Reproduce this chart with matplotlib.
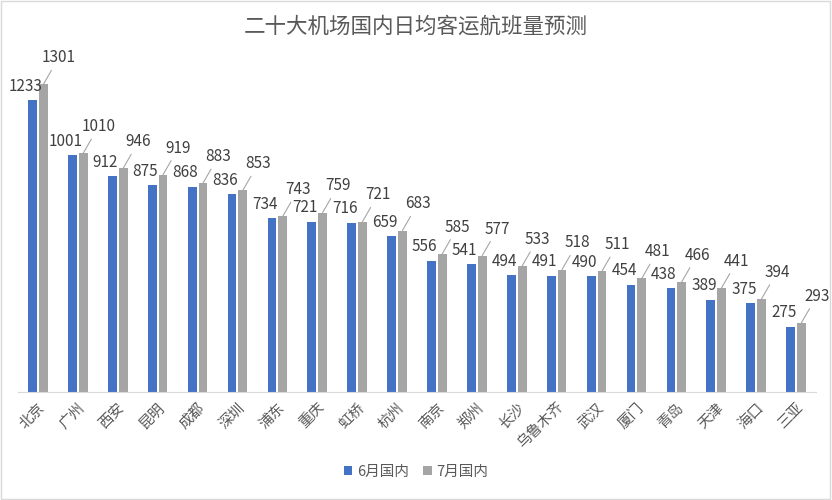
import numpy as np
import matplotlib
matplotlib.use("Agg")
from matplotlib import pyplot as plt
from matplotlib.patches import Rectangle

plt.rcParams['font.family'] = ['Noto Sans CJK SC', 'DejaVu Sans']

airports = ["北京", "广州", "西安", "昆明", "成都", "深圳", "浦东", "重庆", "虹桥", "杭州",
            "南京", "郑州", "长沙", "乌鲁木齐", "武汉", "厦门", "青岛", "天津", "海口", "三亚"]
june = [1233, 1001, 912, 875, 868, 836, 734, 721, 716, 659,
        556, 541, 494, 491, 490, 454, 438, 389, 375, 275]
july = [1301, 1010, 946, 919, 883, 853, 743, 759, 721, 683,
        585, 577, 533, 518, 511, 481, 466, 441, 394, 293]

BLUE = "#4472C4"
GRAY = "#A5A5A5"
TXT = "#404040"

fig = plt.figure(figsize=(8.32, 5), dpi=100)
ax = fig.add_axes([18 / 832, 1 - 392 / 500, 798 / 832, 331 / 500])

x = np.arange(len(airports))
w = 0.22
ax.bar(x - 0.135, june, width=w, color=BLUE, label="6月国内")
ax.bar(x + 0.135, july, width=w, color=GRAY, label="7月国内")

# data labels, roughly like excel's leader-line placement
for i in range(len(airports)):
    ax.annotate(str(june[i]), xy=(x[i] - 0.135, june[i]),
                xytext=(-5, 4), textcoords="offset points",
                ha="center", va="bottom", fontsize=11, color=TXT)
    ax.annotate(str(july[i]), xy=(x[i] + 0.135, july[i]),
                xytext=(11, 13), textcoords="offset points",
                ha="center", va="bottom", fontsize=11, color=TXT,
                arrowprops=dict(arrowstyle="-", color="#A6A6A6", lw=0.8,
                                shrinkA=1, shrinkB=0))

ax.set_xlim(-0.5, len(airports) - 0.5)
ax.set_ylim(0, 1400)
ax.set_yticks([])
ax.set_xticks(x)
ax.set_xticklabels(airports, rotation=45, ha="right", rotation_mode="anchor",
                   fontsize=10.5, color="#595959")
ax.tick_params(axis="x", length=0, pad=6)
for s in ["top", "right", "left"]:
    ax.spines[s].set_visible(False)
ax.spines["bottom"].set_color("#D9D9D9")

fig.text(0.5, 1 - 27 / 500, "二十大机场国内日均客运航班量预测", ha="center", va="center",
         fontsize=15.5, color="#595959")

fig.legend(loc="center", bbox_to_anchor=(0.5, 1 - 472 / 500), ncol=2, frameon=False,
           fontsize=10.5, handlelength=0.6, handleheight=0.6, handletextpad=0.3,
           columnspacing=1.0, labelcolor="#595959")

fig.patches.append(Rectangle((0.001, 0.002), 0.997, 0.996, transform=fig.transFigure,
                             fill=False, edgecolor="#D9D9D9", lw=1))

fig.savefig("out.png", dpi=100)
